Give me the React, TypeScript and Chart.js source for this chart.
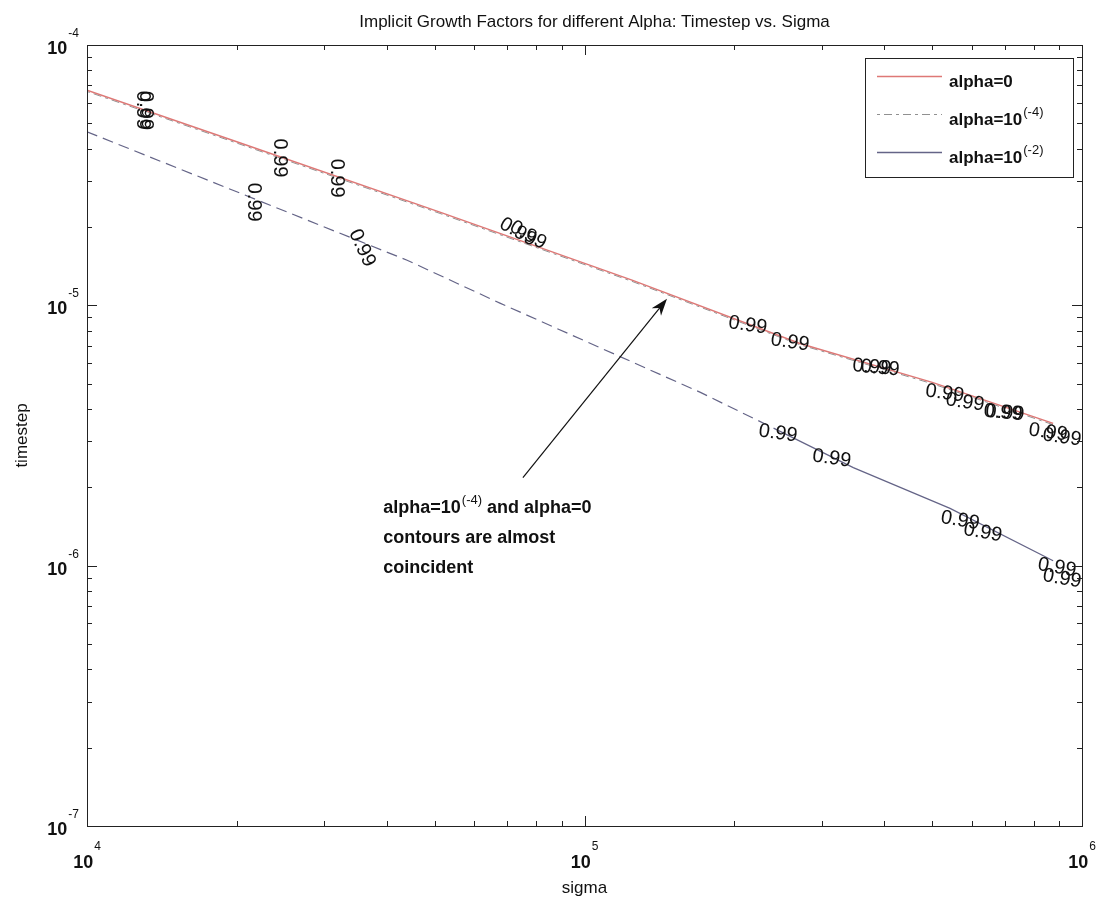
import { useEffect, useRef } from 'react';
import { Chart, registerables } from 'chart.js';

Chart.register(...registerables);

// ---------- data ----------
const sigmaAlpha0 = [1e4, 2.0e4, 5.12e4, 1.246e5, 2.71e5, 5.0e5, 8.75e5];
const timeAlpha0 = [6.71e-5, 4.25e-5, 2.28e-5, 1.25e-5, 7.14e-6, 5.06e-6, 3.52e-6];

const sigmaAlpha4 = [1e4, 2.0e4, 5.12e4, 1.246e5, 2.71e5, 5.0e5, 8.75e5];
const timeAlpha4 = [6.63e-5, 4.2e-5, 2.255e-5, 1.236e-5, 7.06e-6, 5.0e-6, 3.48e-6];

const sigmaAlpha2 = [1e4, 2.0e4, 4.4e4, 6.76e4, 1.71e5, 2.45e5, 3.47e5, 5.43e5, 8.75e5];
const timeAlpha2 = [4.64e-5, 2.73e-5, 1.49e-5, 1.02e-5, 4.63e-6, 3.31e-6, 2.38e-6, 1.66e-6, 1.045e-6];

const seriesNames = ['alpha=0', 'alpha=10', 'alpha=10'];
const seriesSup = ['', '(-4)', '(-2)'];

const xTickExponents = ['4', '5', '6'];
const yTickExponents = ['-7', '-6', '-5', '-4'];

// contour labels: sigma, timestep, rotation in degrees
const contourLabelSigma = [1.29e4, 1.31e4, 2.44e4, 3.17e4, 7.35e4, 7.7e4, 2.13e5, 2.59e5, 3.78e5, 3.93e5, 5.3e5, 5.82e5, 6.94e5, 7.0e5, 8.55e5, 9.12e5,
  2.16e4, 3.57e4, 2.45e5, 3.14e5, 5.69e5, 6.32e5, 8.91e5, 9.12e5];
const contourLabelTime = [5.62e-5, 5.6e-5, 3.68e-5, 3.08e-5, 1.91e-5, 1.86e-5, 8.38e-6, 7.21e-6, 5.78e-6, 5.73e-6, 4.59e-6, 4.24e-6, 3.87e-6, 3.86e-6, 3.25e-6, 3.11e-6,
  2.49e-5, 1.66e-5, 3.22e-6, 2.58e-6, 1.49e-6, 1.34e-6, 9.83e-7, 8.91e-7];
const contourLabelAngle = [90, 90, 90, 90, 30, 30, 8, 8, 5, 5, 8, 8, 5, 5, 8, 8,
  90, 65, 8, 8, 10, 10, 10, 10];
const contourLabelText = '0.99';

const annotationLines = ['alpha=10', 'contours are almost', 'coincident'];
const annotationSup = '(-4)';
const annotationTail = ' and alpha=0';
const annotationAnchor = { sigma: 3.94e4, time: 1.6e-6 };
const arrowFrom = { sigma: 7.52e4, time: 2.18e-6 };
const arrowTo = { sigma: 1.465e5, time: 1.06e-5 };

const titleText = 'Implicit Growth Factors for different Alpha: Timestep vs. Sigma';
const xTitle = 'sigma';
const yTitle = 'timestep';

const FONT = '"Liberation Sans", Arial, Helvetica, sans-serif';
const RED = 'rgb(222,120,118)';
const DASHDOT = 'rgba(70,70,70,0.6)';
const LOWER = 'rgb(100,100,135)';

function toPts(xs: number[], ys: number[]) {
  return xs.map((x, i) => ({ x, y: ys[i] }));
}

function drawSup(ctx: CanvasRenderingContext2D, base: string, sup: string, x: number, y: number,
  align: 'left' | 'right' | 'center', baseFont: string, supFont: string, rise: number) {
  ctx.font = baseFont;
  const wb = ctx.measureText(base).width;
  ctx.font = supFont;
  const ws = sup ? ctx.measureText(sup).width + 1 : 0;
  const total = wb + ws;
  const x0 = align === 'right' ? x - total : align === 'center' ? x - total / 2 : x;
  ctx.textAlign = 'left';
  ctx.textBaseline = 'alphabetic';
  ctx.font = baseFont;
  ctx.fillText(base, x0, y);
  if (sup) {
    ctx.font = supFont;
    ctx.fillText(sup, x0 + wb + 1, y - rise);
  }
  return total;
}

const decorPlugin = {
  id: 'decor',
  afterDatasetsDraw(chart: any) {
    const ctx: CanvasRenderingContext2D = chart.ctx;
    const xs = chart.scales.x;
    const ys = chart.scales.y;
    const ca = chart.chartArea;
    ctx.save();

    // contour labels
    ctx.fillStyle = '#111';
    ctx.font = `20px ${FONT}`;
    ctx.textAlign = 'center';
    ctx.textBaseline = 'middle';
    contourLabelSigma.forEach((s, i) => {
      const px = xs.getPixelForValue(s);
      const py = ys.getPixelForValue(contourLabelTime[i]);
      ctx.save();
      ctx.translate(px, py);
      ctx.rotate((contourLabelAngle[i] * Math.PI) / 180);
      ctx.fillText(contourLabelText, 0, 0);
      ctx.restore();
    });

    // axes box
    ctx.strokeStyle = '#222';
    ctx.lineWidth = 1;
    ctx.strokeRect(Math.round(ca.left) + 0.5, Math.round(ca.top) + 0.5,
      Math.round(ca.right - ca.left), Math.round(ca.bottom - ca.top));

    // ticks
    ctx.beginPath();
    for (let d = 4; d <= 6; d++) {
      for (let m = 1; m <= 9; m++) {
        const v = m * Math.pow(10, d);
        if (v > 1e6 * 1.0001) break;
        const px = Math.round(xs.getPixelForValue(v)) + 0.5;
        const len = m === 1 ? 10 : 5;
        ctx.moveTo(px, ca.bottom); ctx.lineTo(px, ca.bottom - len);
        ctx.moveTo(px, ca.top); ctx.lineTo(px, ca.top + len);
      }
    }
    for (let d = -7; d <= -4; d++) {
      for (let m = 1; m <= 9; m++) {
        const v = m * Math.pow(10, d);
        if (v > 1e-4 * 1.0001) break;
        const py = Math.round(ys.getPixelForValue(v)) + 0.5;
        const len = m === 1 ? 10 : 5;
        ctx.moveTo(ca.left, py); ctx.lineTo(ca.left + len, py);
        ctx.moveTo(ca.right, py); ctx.lineTo(ca.right - len, py);
      }
    }
    ctx.stroke();

    // tick labels
    ctx.fillStyle = '#111';
    const tickBase = `bold 18px ${FONT}`;
    const tickSup = `12px ${FONT}`;
    xTickExponents.forEach((e) => {
      const px = xs.getPixelForValue(Math.pow(10, Number(e)));
      drawSup(ctx, '10', e, px, ca.bottom + 42, 'center', tickBase, tickSup, 18);
    });
    yTickExponents.forEach((e) => {
      const py = ys.getPixelForValue(Math.pow(10, Number(e)));
      drawSup(ctx, '10', e, ca.left - 8, py + 9, 'right', tickBase, tickSup, 17);
    });

    // titles
    ctx.textAlign = 'center';
    ctx.textBaseline = 'alphabetic';
    ctx.font = `17px ${FONT}`;
    ctx.fillText(titleText, (ca.left + ca.right) / 2 + 10, 27);
    ctx.fillText(xTitle, (ca.left + ca.right) / 2, ca.bottom + 67);
    ctx.save();
    ctx.translate(27, (ca.top + ca.bottom) / 2);
    ctx.rotate(-Math.PI / 2);
    ctx.fillText(yTitle, 0, 0);
    ctx.restore();

    // arrow
    const ax0 = xs.getPixelForValue(arrowFrom.sigma);
    const ay0 = ys.getPixelForValue(arrowFrom.time);
    const ax1 = xs.getPixelForValue(arrowTo.sigma);
    const ay1 = ys.getPixelForValue(arrowTo.time);
    const ang = Math.atan2(ay1 - ay0, ax1 - ax0);
    ctx.strokeStyle = '#111';
    ctx.lineWidth = 1.2;
    ctx.beginPath();
    ctx.moveTo(ax0, ay0);
    ctx.lineTo(ax1 - 10 * Math.cos(ang), ay1 - 10 * Math.sin(ang));
    ctx.stroke();
    ctx.fillStyle = '#111';
    ctx.beginPath();
    ctx.moveTo(ax1, ay1);
    ctx.lineTo(ax1 - 17 * Math.cos(ang) + 6 * Math.sin(ang), ay1 - 17 * Math.sin(ang) - 6 * Math.cos(ang));
    ctx.lineTo(ax1 - 12 * Math.cos(ang), ay1 - 12 * Math.sin(ang));
    ctx.lineTo(ax1 - 17 * Math.cos(ang) - 6 * Math.sin(ang), ay1 - 17 * Math.sin(ang) + 6 * Math.cos(ang));
    ctx.closePath();
    ctx.fill();

    // annotation text
    const tx = xs.getPixelForValue(annotationAnchor.sigma);
    const ty = ys.getPixelForValue(annotationAnchor.time);
    const annFont = `bold 18px ${FONT}`;
    const w = drawSup(ctx, annotationLines[0], annotationSup, tx, ty, 'left', annFont, `13px ${FONT}`, 9);
    ctx.font = annFont;
    ctx.fillText(annotationTail, tx + w, ty);
    ctx.fillText(annotationLines[1], tx, ty + 30);
    ctx.fillText(annotationLines[2], tx, ty + 60);

    // legend
    const lx = 865, ly = 58, lw = 208, lh = 119;
    ctx.fillStyle = '#fff';
    ctx.fillRect(lx, ly, lw, lh);
    ctx.strokeStyle = '#222';
    ctx.lineWidth = 1;
    ctx.strokeRect(lx + 0.5, ly + 0.5, lw, lh);
    const rows = [76, 114, 152];
    const colors = [RED, DASHDOT, LOWER];
    const dashes = [[], [3, 4, 8, 4], []];
    rows.forEach((ry, i) => {
      ctx.strokeStyle = colors[i];
      ctx.lineWidth = i === 1 ? 1 : 1.5;
      ctx.setLineDash(dashes[i]);
      ctx.beginPath();
      ctx.moveTo(877, ry + 0.5);
      ctx.lineTo(942, ry + 0.5);
      ctx.stroke();
      ctx.setLineDash([]);
      ctx.fillStyle = '#111';
      drawSup(ctx, seriesNames[i], seriesSup[i], 949, ry + 11, 'left', `bold 17px ${FONT}`, `13px ${FONT}`, 9);
    });

    ctx.restore();
  },
};

export default function App() {
  const ref = useRef<HTMLCanvasElement | null>(null);
  useEffect(() => {
    if (!ref.current) return;
    const chart = new Chart(ref.current, {
      type: 'line',
      data: {
        datasets: [
          {
            label: 'alpha=10^(-4)',
            data: toPts(sigmaAlpha4, timeAlpha4),
            borderColor: DASHDOT,
            borderWidth: 1,
            borderDash: [3, 4, 8, 4],
            pointRadius: 0,
            tension: 0,
            order: 3,
          },
          {
            label: 'alpha=0',
            data: toPts(sigmaAlpha0, timeAlpha0),
            borderColor: RED,
            borderWidth: 1.5,
            pointRadius: 0,
            tension: 0,
            order: 1,
          },
          {
            label: 'alpha=10^(-2)',
            data: toPts(sigmaAlpha2, timeAlpha2),
            borderColor: LOWER,
            borderWidth: 1.2,
            pointRadius: 0,
            tension: 0,
            order: 2,
            segment: {
              borderDash: (c: any) => (c.p0.parsed.x < 2.4e5 ? [11, 6] : undefined),
            },
          },
        ],
      },
      options: {
        responsive: false,
        animation: false,
        layout: { padding: { left: 87, right: 26, top: 45, bottom: 82 } },
        plugins: { legend: { display: false }, title: { display: false }, tooltip: { enabled: false } },
        scales: {
          x: { type: 'logarithmic', min: 1e4, max: 1e6, display: false },
          y: { type: 'logarithmic', min: 1e-7, max: 1e-4, display: false },
        },
      },
      plugins: [decorPlugin],
    } as any);
    return () => chart.destroy();
  }, []);
  return (
    <div style={{ position: 'fixed', left: 0, top: 0, width: 1108, height: 908, background: '#fff' }}>
      <canvas ref={ref} width={1108} height={908} style={{ display: 'block' }} />
    </div>
  );
}
